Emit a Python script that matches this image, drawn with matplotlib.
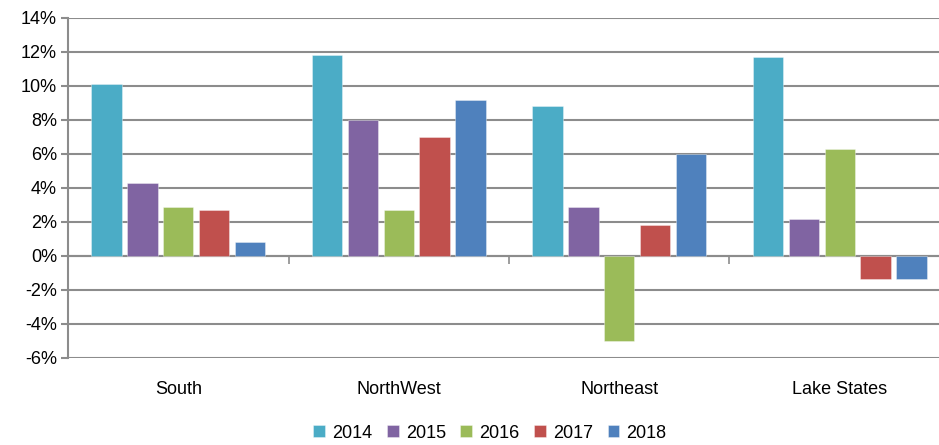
import numpy as np
import matplotlib
matplotlib.use('Agg')
import matplotlib.pyplot as plt
import matplotlib.transforms as mtransforms
from matplotlib.ticker import FuncFormatter

plt.rcParams['font.family'] = ['Liberation Sans', 'DejaVu Sans']

# 数据
regions = ['South', 'NorthWest', 'Northeast', 'Lake States']
years = ['2014', '2015', '2016', '2017', '2018']
v2014 = [10.1, 11.8, 8.8, 11.7]
v2015 = [4.3, 8.0, 2.9, 2.2]
v2016 = [2.9, 2.7, -5.0, 6.3]
v2017 = [2.7, 7.0, 1.8, -1.35]
v2018 = [0.8, 9.2, 6.0, -1.35]
series = [v2014, v2015, v2016, v2017, v2018]
colors = ['#4BACC6', '#8064A2', '#9BBB59', '#C0504D', '#4F81BD']

fig = plt.figure(figsize=(9.39, 4.45), dpi=100)
ax = fig.add_axes([68 / 939, 1 - 358 / 445, 882 / 939, 340 / 445])

x = np.arange(len(regions))
pitch = 0.163
width = 0.138
for i, (vals, c) in enumerate(zip(series, colors)):
    ax.bar(x + (i - 2) * pitch, vals, width, color=c, edgecolor=(1, 1, 1, 0.5),
           linewidth=0.5, label=years[i], zorder=3)

ax.set_xlim(-0.5, len(regions) - 0.5)
ax.set_ylim(-6, 14)
ax.set_yticks(np.arange(-6, 15, 2))
ax.yaxis.set_major_formatter(FuncFormatter(lambda v, p: '%d%%' % v))
ax.grid(axis='y', color='#8c8c8c', linewidth=1.5, zorder=0)
ax.tick_params(axis='y', length=5, width=1.5, color='#8c8c8c', labelsize=13, pad=3)

# x轴在0处，刻度在类别之间
for s in ['top', 'right']:
    ax.spines[s].set_visible(False)
ax.spines['left'].set_color('#8c8c8c')
ax.spines['left'].set_linewidth(1.5)
ax.spines['bottom'].set_position(('data', 0))
ax.spines['bottom'].set_color('#8c8c8c')
ax.spines['bottom'].set_linewidth(1.5)
ax.set_xticks(np.arange(-0.5, len(regions), 1.0))
ax.set_xticklabels([])
ax.tick_params(axis='x', length=6, width=1.2, color='#8c8c8c', direction='out')

trans = mtransforms.blended_transform_factory(ax.transData, ax.transAxes)
for i, r in enumerate(regions):
    ax.text(i, -32 / 340, r, transform=trans, ha='center', va='center', fontsize=13)

ax.legend(loc='center', bbox_to_anchor=(490 / 939, 1 - 433 / 445),
          bbox_transform=fig.transFigure, ncol=5, frameon=False, fontsize=13,
          handlelength=0.65, handleheight=0.65, handletextpad=0.4, columnspacing=0.8)

fig.savefig('out.png', dpi=100)
